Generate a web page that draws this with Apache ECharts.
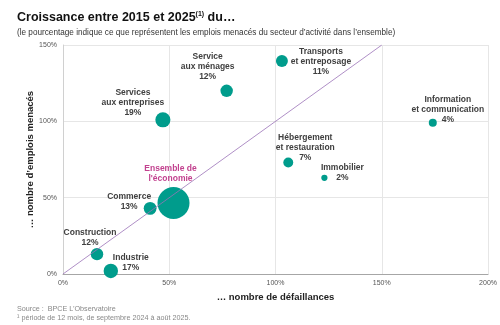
<!DOCTYPE html>
<html><head><meta charset="utf-8">
<script src="https://cdn.jsdelivr.net/npm/echarts@6/dist/echarts.min.js"></script>
<style>html,body{margin:0;padding:0;background:#fff}#c{width:500px;height:325px}</style>
</head><body><div id="c"></div>
<script>
const categories = ["Services\naux entreprises","Service\naux ménages","Transports\net entreposage","Information\net communication","Hébergement\net restauration","Immobilier","Ensemble de\nl'économie","Commerce","Construction","Industrie"];
const defaillances = [47, 77, 103, 174, 106, 123, 52, 41, 16, 22.5];
const emplois = [101, 120, 139.5, 99, 73, 63, 46.5, 43, 13, 2];
const shares = [19, 12, 11, 4, 7, 2, 100, 13, 12, 17];
const xTicks = [0, 50, 100, 150, 200];
const yTicks = [0, 50, 100, 150];
const diagonal = [[0,0],[150,150]];

// label layout (styling, not data)
const labelOffsets = [[-30,-17],[-19,-24],[39,1],[15,-13],[17,-15],[18,-5],[-3,-29],[-21,-7],[-7,-16],[20,-8]];
const TEAL = '#009c8c';
const FONT = 'Liberation Sans, Arial, sans-serif';

const data = categories.map((c,i)=>{
  const isAll = shares[i] === 100;
  return {
    name: c,
    value: [defaillances[i], emplois[i], shares[i]],
    label: {
      show: true, position: 'inside', offset: labelOffsets[i],
      align: 'center', verticalAlign: 'middle',
      formatter: isAll ? '{e|{b}}' : '{a|{b}\n' + shares[i] + '%}',
      rich: {
        a: {fontSize: 8.5, fontWeight: 'bold', color: '#404040', lineHeight: 10, align: 'center', fontFamily: FONT},
        e: {fontSize: 8.5, fontWeight: 'bold', color: '#c2428f', lineHeight: 10, align: 'center', fontFamily: FONT}
      }
    }
  };
});

const chart = echarts.init(document.getElementById('c'), null, {renderer: 'canvas'});
chart.setOption({
  animation: false,
  backgroundColor: '#fff',
  textStyle: {fontFamily: FONT},
  title: [
    {text: 'Croissance entre 2015 et 2025{s|(1)} du…', left: 12, top: 6,
     textStyle: {fontSize: 12.5, fontWeight: 'bold', color: '#111', fontFamily: FONT,
       rich: {s: {fontSize: 7, fontWeight: 'bold', verticalAlign: 'top', padding: [0,0,5,0], color: '#111', fontFamily: FONT}}}},
    {text: "(le pourcentage indique ce que représentent les emplois menacés du secteur d’activité dans l’ensemble)", left: 12, top: 24,
     textStyle: {fontSize: 8.2, fontWeight: 'normal', color: '#333', fontFamily: FONT}},
    {text: 'Source :  BPCE L’Observatoire', left: 12, top: 301,
     textStyle: {fontSize: 7.2, fontWeight: 'normal', color: '#888', fontFamily: FONT}},
    {text: '¹ période de 12 mois, de septembre 2024 à août 2025.', left: 12, top: 310,
     textStyle: {fontSize: 7.2, fontWeight: 'normal', color: '#888', fontFamily: FONT}}
  ],
  grid: {left: 63, right: 11, top: 45, bottom: 51, containLabel: false},
  xAxis: {
    type: 'value', min: xTicks[0], max: xTicks[xTicks.length-1], interval: 50,
    name: '… nombre de défaillances', nameLocation: 'middle', nameGap: 18, nameMoveOverlap: false,
    nameTextStyle: {fontSize: 9.5, fontWeight: 'bold', color: '#222', fontFamily: FONT},
    axisLine: {show: true, lineStyle: {color: '#a6a6a6', width: 1}},
    axisTick: {show: false},
    axisLabel: {formatter: v => v + '%', fontSize: 7, color: '#555', margin: 6, fontFamily: FONT},
    splitLine: {show: true, lineStyle: {color: '#e6e6e6', width: 1}}
  },
  yAxis: {
    type: 'value', min: yTicks[0], max: yTicks[yTicks.length-1], interval: 50,
    name: '… nombre d’emplois menacés', nameLocation: 'middle', nameGap: 28, nameMoveOverlap: false,
    nameTextStyle: {fontSize: 9.5, fontWeight: 'bold', color: '#222', fontFamily: FONT},
    axisLine: {show: true, lineStyle: {color: '#d0d0d0', width: 1}},
    axisTick: {show: false},
    axisLabel: {formatter: v => v + '%', fontSize: 7, color: '#555', margin: 6, fontFamily: FONT},
    splitLine: {show: true, lineStyle: {color: '#e6e6e6', width: 1}}
  },
  series: [
    {type: 'scatter', data: data, z: 2,
     symbolSize: v => 2 + 3 * Math.sqrt(v[2]),
     itemStyle: {color: TEAL, opacity: 1}},
    {type: 'line', data: diagonal, z: 3, symbol: 'none', silent: true,
     lineStyle: {color: '#9a72b8', width: 0.8}}
  ]
});
</script></body></html>
